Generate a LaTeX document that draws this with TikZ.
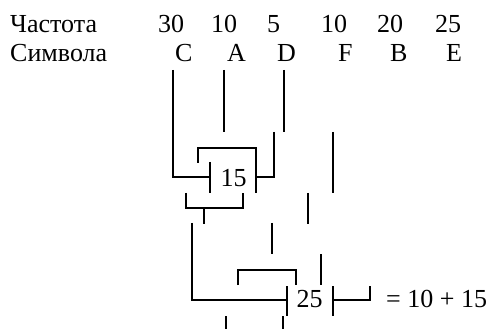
\documentclass[tikz,border=0pt]{standalone}
\usepackage{fontspec}
\setmainfont{Liberation Serif}
\begin{document}
\begin{tikzpicture}[x=1pt,y=-1pt,
  treeline/.style={line width=1.8pt,line cap=butt,line join=miter},
  lbl/.style={inner sep=0pt,anchor=base west,font=\fontsize{26}{30}\selectfont},
  num/.style={inner sep=0pt,anchor=base,font=\fontsize{26}{30}\selectfont}]
\useasboundingbox (0,0) rectangle (491,329);

% header rows: frequencies and symbols
\node[lbl] (hfreq) at (10,33) {Частота};
\node[lbl] (f1) at (158,33) {30};
\node[lbl] (f2) at (211,33) {10};
\node[lbl] (f3) at (267,33) {5};
\node[lbl] (f4) at (321,33) {10};
\node[lbl] (f5) at (377,33) {20};
\node[lbl] (f6) at (435,33) {25};
\node[lbl] (hsym) at (10,62) {Символа};
\node[lbl] (sC) at (175,62) {C};
\node[lbl] (sA) at (227,62) {A};
\node[lbl] (sD) at (277,62) {D};
\node[lbl] (sF) at (338,62) {F};
\node[lbl] (sB) at (390,62) {B};
\node[lbl] (sE) at (446,62) {E};

% sums
\node[num] (s15) at (233.5,186) {15};
\node[num] (s25) at (309.5,308) {25};
\node[lbl] (eq) at (386,308) {= 10 + 15};

% first merge
\draw[treeline] (173,70) -- (173,177) -- (210,177);
\draw[treeline] (224,70) -- (224,132);
\draw[treeline] (284,70) -- (284,132);
\draw[treeline] (274,132) -- (274,177) -- (256,177);
\draw[treeline] (198,163) -- (198,148) -- (256,148) -- (256,193);
\draw[treeline] (210,162) -- (210,193);
\draw[treeline] (333,132) -- (333,193);
\draw[treeline] (186,193) -- (186,208) -- (243,208) -- (243,193);
\draw[treeline] (204,208) -- (204,224);
\draw[treeline] (308,193) -- (308,224);

% second merge
\draw[treeline] (192,223) -- (192,300) -- (287,300);
\draw[treeline] (272,223) -- (272,254);
\draw[treeline] (321,254) -- (321,285);
\draw[treeline] (238,285) -- (238,270) -- (296,270) -- (296,285);
\draw[treeline] (287,286) -- (287,316);
\draw[treeline] (333,286) -- (333,316);
\draw[treeline] (333,300) -- (370,300) -- (370,286);
\draw[treeline] (226,316) -- (226,329);
\draw[treeline] (283,316) -- (283,329);
\end{tikzpicture}
\end{document}
